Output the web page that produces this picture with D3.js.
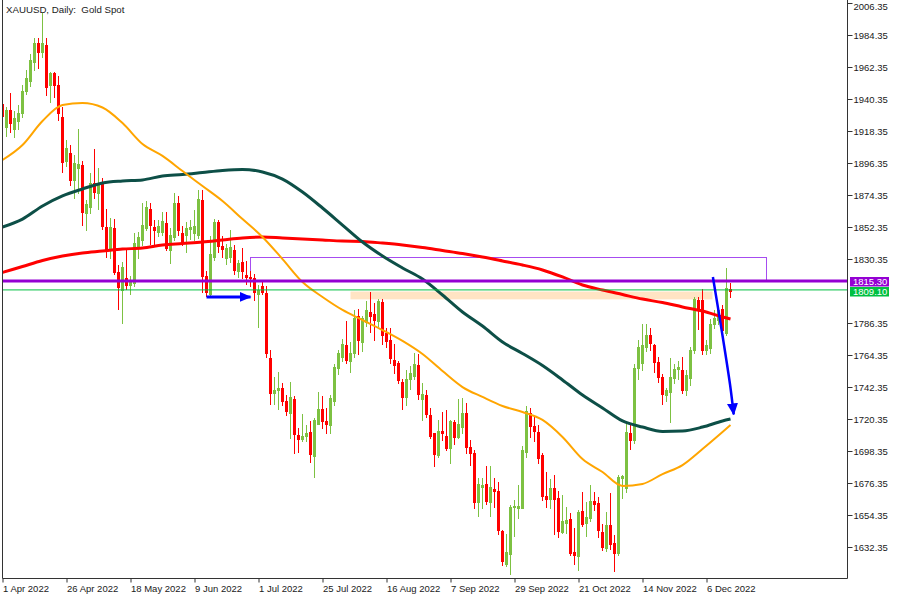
<!DOCTYPE html>
<html><head><meta charset="utf-8">
<script src="https://cdn.jsdelivr.net/npm/d3@7"></script>
<style>
html,body{margin:0;padding:0;background:#fff;}
svg{display:block;font-family:"Liberation Sans",Arial,sans-serif;}
</style></head><body>
<svg id="chart" width="900" height="600"></svg>
<script>
// ---- DATA (daily XAUUSD bars, index 0 = 1 Apr 2022) ----
const opens = [1937,1921,1933,1920,1925,1931,1946,1953,1966,1979,1973,1977.5,1950,1958,1950,1928,1898,1903,1885,1893,
1895,1862,1866,1882.5,1875.7,1882.5,1852.4,1837.2,1851.7,1821.4,1809,1817.3,1812.5,1814,1838.6,1843.4,1851.6,1864.7,1852.5,1849,
1849,1855,1836.5,1845.5,1869,1848,1847,1851,1848,1847,1871,1819,1806,1832,1856,1839,1831,1832,1836.5,1822,
1828,1819.5,1818,1817,1806.5,1812,1807,1762,1738,1740,1742,1733,1724.5,1734,1709.4,1706.6,1708.6,1711.4,1695,1717,
1727,1719,1716,1733,1755.5,1763,1771,1760,1766,1791,1773,1787,1794,1792.5,1787.7,1801,1779.5,1775,1761,1759,
1746,1735.5,1748,1750,1757.5,1734,1737,1723,1710.5,1695.5,1712,1709,1700.5,1718,1708,1715,1724.5,1701,1697,1663.4,
1673.6,1675.6,1663.4,1672,1671,1643.4,1620.6,1627.5,1659.8,1659.5,1659.2,1698,1724.5,1715.5,1711.4,1695.6,1667.4,1665.4,1673,1666,
1642.7,1649,1651.6,1629,1626.2,1657,1649,1652.6,1664,1662.6,1642.7,1631.6,1647.5,1635,1628.3,1680,1673,1710.7,1706,1755.4,
1759,1770,1778,1771,1759.5,1749.3,1737,1739,1748.5,1755,1754,1740.3,1748.5,1767.8,1802,1802,1768,1769,1786,1788.4,
1796,1779.5,1809.7];
const highs = [1939,1935,1944.5,1932,1936,1950,1960,1971,1982,1982,1999.5,1982,1959,1959,1956,1935,1912,1909,1902,1920,
1898,1871,1889.5,1906,1893,1886,1865,1858.5,1858,1826,1828,1836.5,1819,1848,1849,1869,1870,1869,1857,1857,
1862.6,1862.6,1852,1875.7,1874,1853,1856,1857.5,1864,1878,1878,1822,1846,1858,1857,1846,1841,1850,1840,1830,
1838,1829,1822,1820,1812.5,1816,1812,1768,1749,1753,1745,1737,1746,1736,1714,1724,1716,1719,1721,1739,
1736,1728,1737,1758,1768,1775.5,1788,1773,1795,1796,1791.5,1801.5,1808,1800,1803,1803,1783,1783,1772,1760,
1748,1754,1757,1766,1765,1745,1740,1728,1711,1720,1725,1726.5,1720,1720,1734,1735,1731.5,1706,1699,1680,
1680,1688,1688,1680,1677,1644,1641,1661,1665,1675,1702,1729.5,1728,1722,1716,1697,1684,1679,1682,1671,
1668,1660,1656,1645.5,1658,1670,1663,1675,1670,1667,1648,1656.4,1669.5,1640.6,1682,1682,1718,1716,1758,1775,
1786,1786,1783,1772,1763,1751,1742,1762,1758,1760,1763,1754,1770,1804,1804,1809.7,1775,1789,1795,1798,
1799,1824,1813.8];
const lows = [1918,1915,1918,1914,1920,1928,1944,1949,1960,1962,1969,1943,1938.5,1942,1926,1890,1894,1881,1872,1876,
1853.7,1850,1862,1872,1865,1851,1832,1831,1820,1796,1786.4,1810,1806,1812,1831,1840,1850,1841,1841,1846,
1847,1836.5,1827.5,1843.4,1847,1840,1835,1844,1843.4,1845,1808,1805,1805,1830,1835,1832,1827,1828,1820,1818,
1817,1813,1812,1802,1783.6,1806,1763,1731,1731,1727,1730,1723,1707,1697,1698,1705,1705,1691,1680.5,1717,
1714,1711,1711,1730,1751,1760,1759,1753,1763,1765,1767,1784,1780,1775,1784,1772,1770,1759,1752,1745,
1727,1730,1741,1748,1734,1720,1722,1707,1688,1694,1706,1699,1690,1703,1707,1711,1697,1689,1659,1654,
1659,1662,1654,1660,1641,1620,1619,1613.8,1640,1652,1659,1694,1708,1705,1690,1664.7,1660,1659,1641,1639,
1642,1642,1627,1621,1616.5,1647,1640,1650,1658,1639,1630,1629.6,1631,1615.8,1627,1666,1670,1700,1704,1748,
1754,1767,1768,1753,1746,1731,1733,1718,1745,1748,1738,1737,1744,1766,1782,1765,1765,1766,1783,1786,
1779,1778,1804];
const closes = [1929,1933,1924,1927,1931,1946,1955,1967,1979,1973,1979,1948.6,1958,1950,1931,1897,1907,1885,1896.5,1896,
1862.6,1868,1882.5,1876.4,1882.5,1853,1837.2,1852.4,1821.4,1811,1824.8,1812.5,1814.5,1841.4,1845.5,1853.7,1866,1853.7,1850.3,1853,
1856.5,1838,1847,1869,1850.3,1841.4,1851.7,1852.4,1853,1871.6,1818.5,1808,1834,1856,1839,1837,1838,1838.5,1823,1827.5,
1822,1818,1817,1808,1809,1807.5,1766,1738,1740,1742,1733,1726,1735.5,1710,1706.6,1708.6,1711,1696,1720,1727,
1719,1717,1735,1756,1766,1772,1761,1766,1790,1775,1790,1795,1791,1788.4,1801.5,1778,1774,1762,1757.5,1747,
1735.5,1748,1752,1758,1737.5,1737.5,1724,1709,1696,1712,1711,1700.5,1719,1708,1717,1724.5,1701,1697,1663.4,1675.6,
1675,1664,1673.6,1671,1644,1622.7,1629,1660,1660.5,1660.5,1699,1726,1715.5,1712,1693.5,1667.4,1665.4,1673,1665.4,1643.4,
1650,1651,1628,1627,1656.4,1648,1653,1664,1662,1644,1632.4,1647.5,1634.4,1628.3,1680.5,1681,1711.4,1706,1755.4,1770,
1771,1778,1772.6,1759.5,1749.3,1737.5,1740,1749.3,1755,1756,1740.3,1750.6,1767.8,1803,1795.5,1768,1771,1786,1790,1795,
1781.5,1810.4,1808.4];

const dateLabels = ["1 Apr 2022","26 Apr 2022","18 May 2022","9 Jun 2022","1 Jul 2022","25 Jul 2022","16 Aug 2022",
  "7 Sep 2022","29 Sep 2022","21 Oct 2022","14 Nov 2022","6 Dec 2022"];
const dateLabelBars = [0,16,32,48,64,80,96,112,128,144,160,176];
const priceTicks = [2006.35,1984.35,1962.35,1940.35,1918.35,1896.35,1874.35,1852.35,1830.35,
  1786.35,1764.35,1742.35,1720.35,1698.35,1676.35,1654.35,1632.35];

// moving averages sampled every 5 bars
const maBars = [0,5,10,15,20,25,30,35,40,45,50,55,60,65,70,75,80,85,90,95,100,105,110,115,120,125,130,135,140,145,150,155,160,165,170,175,180,182];
const maOrange = [1898.4,1908.7,1925.2,1936.2,1937.6,1934.5,1923.8,1909.4,1901.2,1890.8,1880.5,1870.2,1857.8,1845.5,1830.3,1814.5,1804.2,1795.3,1788.4,1781.5,
  1774.0,1765.0,1753.3,1742.3,1735.5,1729.3,1725.2,1719.7,1708.0,1692.8,1683.9,1674.3,1675.7,1682.5,1688.7,1699.7,1711.4,1716.2];
const maTeal = [1852.3,1857.8,1866.8,1873.7,1878.5,1882.6,1884.0,1884.7,1887.4,1888.4,1889.8,1891.2,1891.9,1890.2,1885.3,1876.4,1865.4,1853.7,1842.0,1832.4,
  1824.2,1816.6,1805.6,1793.9,1784.3,1773.3,1765.4,1757.1,1747.2,1736.8,1727.9,1719.0,1714.8,1711.8,1712.1,1714.8,1719.0,1720.3];
const maRed = [1821.1,1825.2,1829.3,1832.4,1834.5,1835.8,1837.2,1837.9,1840.0,1841.0,1842.0,1843.4,1844.8,1845.5,1844.8,1844.1,1843.4,1842.7,1842.4,1841.3,
  1840.0,1838.3,1836.2,1834.1,1831.7,1829.0,1826.2,1822.8,1818.0,1812.5,1809.0,1805.9,1802.8,1800.4,1797.4,1794.6,1790.5,1789.1];

const levelPrices = [1815.30, 1809.10];
const levelNames = ["1815.30", "1809.10"];
const zoneBars = [87, 177.5];      const zonePrices = [1802.6, 1808.0];
const boxBars = [62, 191];          const boxPrices = [1815.3, 1831.7];
const arrow1Bars = [51, 62];        const arrow1Prices = [1804.3, 1804.3];
const arrow2Bars = [177.6, 179.9, 181.9, 182.8]; const arrow2Prices = [1818.0, 1779.5, 1743.7, 1723.5];

// ---- DRAW ----
const svg = d3.select("#chart");
const L = 2, R = 847, T = 0, B = 578;
const FONT = "Liberation Sans, Arial, sans-serif";
const x = d3.scaleLinear().domain([0, 210.5]).range([2.5, 844.5]);
const y = d3.scaleLinear().domain([1632.35, 2006.35]).range([547, 3]);

svg.append("rect").attr("width",900).attr("height",600).attr("fill","#fff");
const defs = svg.append("defs");
defs.append("clipPath").attr("id","plot").append("rect")
  .attr("x",L+1).attr("y",T).attr("width",R-L-1).attr("height",B-T);
["a1","a2"].forEach((id,k)=>{
  const s = 12;
  defs.append("marker").attr("id",id).attr("markerUnits","userSpaceOnUse")
    .attr("markerWidth",s).attr("markerHeight",s).attr("refX",s-1).attr("refY",s/2)
    .attr("orient","auto").append("path")
    .attr("d",`M0,${k===0?1:0.5} L${s},${s/2} L0,${k===0?s-1:s-0.5} Z`).attr("fill","#0000ff");
});

const g = svg.append("g").attr("clip-path","url(#plot)");

// zone
g.append("rect").attr("x",x(zoneBars[0])).attr("width",x(zoneBars[1])-x(zoneBars[0]))
  .attr("y",y(zonePrices[1])).attr("height",y(zonePrices[0])-y(zonePrices[1])).attr("fill","#ffe4c4");
// box
g.append("rect").attr("x",Math.round(x(boxBars[0]))+0.5).attr("width",Math.round(x(boxBars[1])-x(boxBars[0])))
  .attr("y",Math.round(y(boxPrices[1]))+0.5).attr("height",Math.round(y(boxPrices[0])-y(boxPrices[1])))
  .attr("fill","none").attr("stroke","#a64cf0").attr("stroke-width",1);

// candles
const idx = d3.range(closes.length);
const cg = g.append("g");
cg.selectAll("line.w").data(idx).join("line")
  .attr("x1",i=>x(i)).attr("x2",i=>x(i))
  .attr("y1",i=>Math.round(y(highs[i]))).attr("y2",i=>Math.round(y(lows[i]))+1)
  .attr("stroke",i=>closes[i]>=opens[i]?"#7dc142":"#ff0000").attr("stroke-width",1);
cg.selectAll("rect.b").data(idx).join("rect")
  .attr("x",i=>x(i)-1.5).attr("width",3)
  .attr("y",i=>Math.round(y(Math.max(opens[i],closes[i]))))
  .attr("height",i=>Math.max(1,Math.round(y(Math.min(opens[i],closes[i])))-Math.round(y(Math.max(opens[i],closes[i])))+1))
  .attr("fill",i=>closes[i]>=opens[i]?"#7dc142":"#ff0000");

// moving averages
const maLine = vals => d3.line().x((d,i)=>x(maBars[i])).y(d=>y(d)).curve(d3.curveMonotoneX)(vals);
g.append("path").attr("d",maLine(maRed)).attr("fill","none").attr("stroke","#ff0000").attr("stroke-width",3);
g.append("path").attr("d",maLine(maTeal)).attr("fill","none").attr("stroke","#0d4f47").attr("stroke-width",3);
g.append("path").attr("d",maLine(maOrange)).attr("fill","none").attr("stroke","#ffa500").attr("stroke-width",2);

// level lines
g.append("line").attr("x1",L).attr("x2",R).attr("y1",y(levelPrices[1])).attr("y2",y(levelPrices[1]))
  .attr("stroke","#00c040").attr("stroke-width",1);
g.append("line").attr("x1",L).attr("x2",R).attr("y1",y(levelPrices[0])).attr("y2",y(levelPrices[0]))
  .attr("stroke","#9400d3").attr("stroke-width",3);

// arrows
g.append("path").attr("d",d3.line()(arrow1Bars.map((b,i)=>[x(b),y(arrow1Prices[i])])))
  .attr("stroke","#0000ff").attr("stroke-width",3).attr("fill","none").attr("marker-end","url(#a1)");
g.append("path").attr("d",d3.line().curve(d3.curveCatmullRom)(arrow2Bars.map((b,i)=>[x(b),y(arrow2Prices[i])])))
  .attr("stroke","#0000ff").attr("stroke-width",2.5).attr("fill","none").attr("marker-end","url(#a2)");

// frame
svg.append("path").attr("d",`M${L+0.5},${T} V${B+0.5} H${R+0.5} V${T}`)
  .attr("fill","none").attr("stroke","#333").attr("stroke-width",1);

// axes
const ay = svg.append("g").attr("transform",`translate(${R+0.5},0)`)
  .call(d3.axisRight(y).tickValues(priceTicks).tickSize(5).tickPadding(1).tickFormat(d=>d.toFixed(2)));
ay.select(".domain").remove();
ay.selectAll("line").attr("stroke","#333");
ay.selectAll("text").attr("font-size",9.5).attr("fill","#1a1a1a").attr("font-family",FONT)
  .attr("dy",(d,i)=> i===0 ? "0.72em" : "0.32em");

const ax = svg.append("g").attr("transform",`translate(0,${B+0.5})`)
  .call(d3.axisBottom(x).tickValues(dateLabelBars).tickSize(4).tickPadding(3).tickFormat((d,i)=>dateLabels[i]));
ax.select(".domain").remove();
ax.selectAll("line").attr("stroke","#333");
ax.selectAll("text").attr("font-size",9.5).attr("fill","#1a1a1a").attr("text-anchor","start")
  .attr("font-family",FONT);

// price labels
const boxColors = ["#9400d3","#00c040"];
[1,0].forEach(k=>{
  const top = k===0 ? Math.round(y(levelPrices[0]))-4 : Math.round(y(levelPrices[1]))-3;
  svg.append("rect").attr("x",R+3).attr("y",top).attr("width",39).attr("height",9.5).attr("fill",boxColors[k]);
  svg.append("text").attr("x",R+6).attr("y",top+8.3)
    .attr("font-size",9.5).attr("font-family",FONT).attr("fill","#fff").text(levelNames[k]);
});

// title
svg.append("text").attr("x",6).attr("y",13).attr("font-size",9.7).attr("fill","#1a1a1a").attr("font-family",FONT)
  .style("white-space","pre").text("XAUUSD, Daily:  Gold Spot");
</script>
</body></html>
